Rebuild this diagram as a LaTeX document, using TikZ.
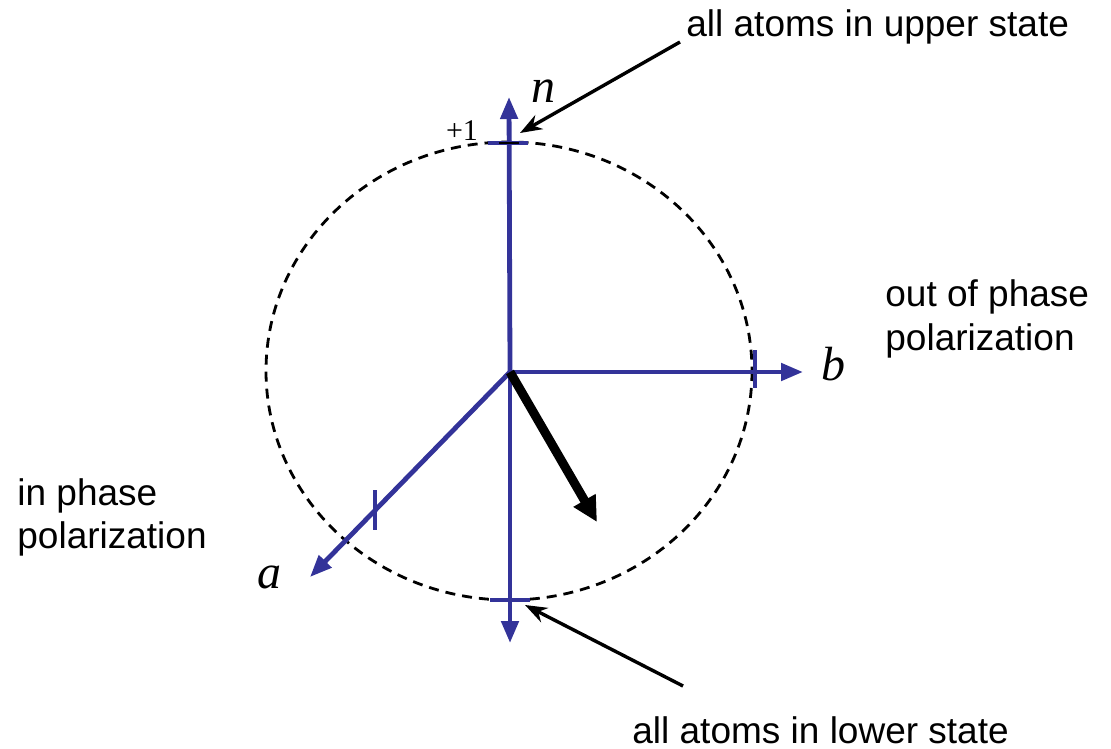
\documentclass[tikz,border=0pt]{standalone}
\usepackage{fontspec}
\setmainfont{Liberation Serif}
\newfontfamily\labelsans{Liberation Sans}
\usetikzlibrary{arrows.meta}
\definecolor{axisblue}{RGB}{51,51,153}
\tikzset{
  axis/.style={axisblue,line width=2.4pt,-{Triangle[length=11pt,width=8.5pt]}},
  tick/.style={axisblue,line width=2.4pt},
  pointer/.style={line width=1.7pt,-{Stealth[length=11pt,width=8pt]}},
  note/.style={font=\labelsans\fontsize{18.5pt}{21.5pt}\selectfont,inner sep=0pt,align=left},
  axlabel/.style={font=\itshape\fontsize{24pt}{27pt}\selectfont,inner sep=0pt}
}
\begin{document}
\begin{tikzpicture}[x=0.5pt,y=-0.5pt]
\useasboundingbox (0,0) rectangle (1111,748);
% axes
\coordinate (O) at (510,372);
\coordinate (N) at (509,97);
\coordinate (S) at (510,643);
\coordinate (B) at (803,372);
\coordinate (A) at (310,577);
\draw[line width=1.4pt,dash pattern=on 5pt off 3.5pt] (509,371) ellipse [x radius=243,y radius=229];
\draw[axis] (O) -- (N);
\draw[axis] (O) -- (S);
\draw[axis] (O) -- (B);
\draw[axis] (O) -- (A);
\draw[tick] (488,143) -- (528,143);
\draw[tick] (490,600) -- (530,600);
\draw[tick] (755,350) -- (755,388);
\draw[tick] (375,490) -- (375,530);
\draw[line width=1.4pt] (499,143) -- (519,143);
% state vector
\coordinate (P) at (597,522);
\draw[line width=4.5pt,-{Triangle[length=12.5pt,width=12pt]}] (O) -- (P);
% labels
\node[axlabel] (nlab) at (543,91) {n};
\node[axlabel] (blab) at (833,364) {b};
\node[axlabel] (alab) at (269,577) {a};
\node[inner sep=0pt,font=\fontsize{15pt}{17pt}\selectfont] (plus) at (462,131) {+1};
\node[note,anchor=base west] (upper) at (686,37) {all atoms in upper state};
\node[note,anchor=base west] (lower) at (632,743) {all atoms in lower state};
\node[note,anchor=base west] (outph) at (885,350) {out of phase\\polarization};
\node[note,anchor=base west] (inph) at (17,548) {in phase\\polarization};
\coordinate (utip) at (520,133);
\coordinate (ltip) at (525,605);
\draw[pointer] (680,42) -- (utip);
\draw[pointer] (683,686) -- (ltip);
\end{tikzpicture}
\end{document}
